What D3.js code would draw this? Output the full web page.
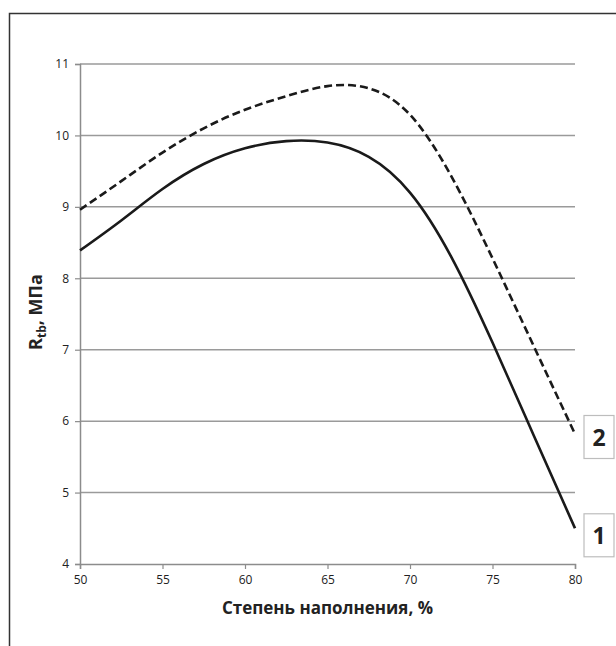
<!DOCTYPE html>
<html>
<head>
<meta charset="utf-8">
<script src="https://cdn.jsdelivr.net/npm/d3@7"></script>
<style>
  body { margin: 0; background: #fff; }
  svg text { font-family: "Open Sans", "DejaVu Sans", sans-serif; }
</style>
</head>
<body>
<svg id="chart" width="616" height="646"></svg>
<script>
// filling degree, %
var fill = [50, 52.5, 55, 57.5, 60, 62.5, 65, 67.5, 70, 72.5, 75, 77.5, 80];
var rtb1 = [8.39, 8.81, 9.25, 9.60, 9.82, 9.92, 9.90, 9.70, 9.20, 8.30, 7.10, 5.80, 4.50];
var rtb2 = [8.96, 9.36, 9.76, 10.10, 10.36, 10.55, 10.69, 10.66, 10.29, 9.43, 8.28, 7.05, 5.82];
var xTicks = [50, 55, 60, 65, 70, 75, 80];
var yTicks = [4, 5, 6, 7, 8, 9, 10, 11];
var seriesNames = ["1", "2"];

var svg = d3.select("#chart");

// "top" is a reserved window property, so plot edges get their own names
var plotL = 80, plotR = 575, plotT = 64, plotB = 564;
var x = d3.scaleLinear().domain([50, 80]).range([plotL, plotR]);
var y = d3.scaleLinear().domain([4, 11]).range([plotB, plotT]);

// outer frame (left and top edges only visible)
svg.append("path")
  .attr("d", "M9.5,646 L9.5,13.5 L616,13.5")
  .attr("fill", "none")
  .attr("stroke", "#333")
  .attr("stroke-width", 1.5);

// horizontal grid
svg.append("g")
  .selectAll("line")
  .data(yTicks.slice(1))
  .enter().append("line")
  .attr("x1", plotL).attr("x2", plotR)
  .attr("y1", function(d){ return y(d); })
  .attr("y2", function(d){ return y(d); })
  .attr("stroke", "#9a9a9a")
  .attr("stroke-width", 1.5);

var xAxis = d3.axisBottom(x).tickValues(xTicks).tickSize(5).tickPadding(6).tickFormat(d3.format("d"));
var yAxis = d3.axisLeft(y).tickValues(yTicks).tickSize(5).tickPadding(6).tickFormat(d3.format("d"));

var gx = svg.append("g").attr("transform", "translate(0," + plotB + ")").call(xAxis);
var gy = svg.append("g").attr("transform", "translate(" + plotL + ",0)").call(yAxis);
[gx, gy].forEach(function(g){
  g.select(".domain").attr("stroke", "#8c8c8c").attr("stroke-width", 1.5);
  g.selectAll(".tick line").attr("stroke", "#8c8c8c").attr("stroke-width", 1.2);
  g.selectAll(".tick text")
    .attr("fill", "#222")
    .style("font-family", "'Open Sans', sans-serif")
    .style("font-size", "12px");
});

// curves
var line = d3.line()
  .x(function(d){ return x(d[0]); })
  .y(function(d){ return y(d[1]); })
  .curve(d3.curveNatural);

var data1 = d3.zip(fill, rtb1);
var data2 = d3.zip(fill, rtb2);

svg.append("path")
  .datum(data1)
  .attr("d", line)
  .attr("fill", "none")
  .attr("stroke", "#1a1a1a")
  .attr("stroke-width", 2.6);

svg.append("path")
  .datum(data2)
  .attr("d", line)
  .attr("fill", "none")
  .attr("stroke", "#1a1a1a")
  .attr("stroke-width", 2.6)
  .attr("stroke-dasharray", "8,4");

// series labels in boxes
var ends = [data1[data1.length - 1], data2[data2.length - 1]];
var offs = [7, 3];
var boxes = svg.append("g").selectAll("g")
  .data(seriesNames)
  .enter().append("g")
  .attr("transform", function(d, i){
    return "translate(" + (x(80) + 9) + "," + (y(ends[i][1]) + offs[i] - 21.5) + ")";
  });
boxes.append("rect")
  .attr("width", 30).attr("height", 43)
  .attr("fill", "#fff")
  .attr("stroke", "#bdbdbd")
  .attr("stroke-width", 1.2);
boxes.append("text")
  .attr("x", 15).attr("y", 30)
  .attr("text-anchor", "middle")
  .attr("fill", "#222")
  .style("font-size", "23px")
  .style("font-weight", "bold")
  .text(function(d){ return d; });

// axis titles
svg.append("text")
  .attr("x", (plotL + plotR) / 2)
  .attr("y", 614)
  .attr("text-anchor", "middle")
  .attr("fill", "#222")
  .style("font-size", "17px")
  .style("font-weight", "bold")
  .text("Степень наполнения, %");

var yt = svg.append("text")
  .attr("transform", "translate(42,312) rotate(-90)")
  .attr("text-anchor", "middle")
  .attr("fill", "#222")
  .style("font-size", "18px")
  .style("font-weight", "bold");
yt.append("tspan").text("R");
yt.append("tspan").attr("dy", 4).style("font-size", "12px").text("tb");
yt.append("tspan").attr("dy", -4).text(", МПа");
</script>
</body>
</html>
